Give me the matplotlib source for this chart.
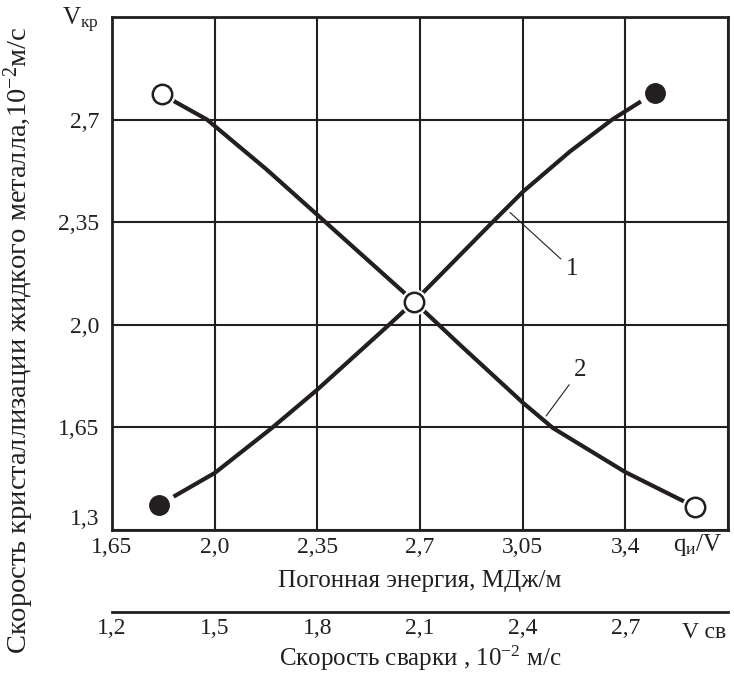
import matplotlib
matplotlib.use("Agg")
import matplotlib.pyplot as plt

plt.rcParams['font.family'] = ['Liberation Serif', 'DejaVu Serif']
plt.rcParams['mathtext.fontset'] = 'custom'
plt.rcParams['mathtext.rm'] = 'Liberation Serif'
plt.rcParams['mathtext.it'] = 'Liberation Serif'

ink = '#231f20'

# curve 1 - filled end points
q1 = [1.81, 2.001, 2.195, 2.349, 2.591, 2.68, 2.945, 3.051, 3.211, 3.355, 3.501]
v1 = [1.385, 1.495, 1.648, 1.778, 1.997, 2.079, 2.348, 2.454, 2.591, 2.70, 2.792]
# curve 2 - open end points
q2 = [1.82, 1.974, 2.178, 2.349, 2.68, 2.836, 3.051, 3.153, 3.399, 3.637]
v2 = [2.786, 2.70, 2.529, 2.376, 2.079, 1.932, 1.734, 1.648, 1.498, 1.379]

xticks = [1.65, 2.0, 2.35, 2.7, 3.05, 3.4]
xlabels = ['1,65', '2,0', '2,35', '2,7', '3,05', '3,4']
yticks = [1.3, 1.65, 2.0, 2.35, 2.7]
ylabels = ['1,3', '1,65', '2,0', '2,35', '2,7']
sticks = [1.2, 1.5, 1.8, 2.1, 2.4, 2.7]
slabels = ['1,2', '1,5', '1,8', '2,1', '2,4', '2,7']

fig = plt.figure(figsize=(7.34, 6.80), dpi=100)
ax = fig.add_axes([112/734, 150/680, 616/734, 513/680])
ax.set_xlim(1.65, 3.75)
ax.set_ylim(1.3, 3.05)
ax.set_xticks(xticks + [3.75])
ax.set_xticklabels(xlabels + [''])
ax.set_yticks(yticks + [3.05])
ylab = ax.set_yticklabels(ylabels + [''])
ylab[0].set_va('bottom')
ax.tick_params(length=0, labelsize=17, colors=ink)
ax.tick_params(axis='x', pad=5)
ax.tick_params(axis='y', pad=9)
ax.grid(True, color=ink, lw=1.5)
ax.set_axisbelow(True)
for s in ax.spines.values():
    s.set_linewidth(2)
    s.set_color(ink)

# curves
ax.plot(q1, v1, color=ink, lw=3, solid_capstyle='butt', solid_joinstyle='round', zorder=3)
ax.plot(q2, v2, color=ink, lw=3, solid_capstyle='butt', solid_joinstyle='round', zorder=3)

# white halos so the curves stop short of the markers
ax.plot([q1[0], q1[-1]], [v1[0], v1[-1]], 'o', ms=24, mfc='white', mec='none', zorder=4)
ax.plot([q2[0], q2[4], q2[-1]], [v2[0], v2[4], v2[-1]], 'o', ms=19, mfc='white', mec='none', zorder=4)
ax.plot([q1[0], q1[-1]], [v1[0], v1[-1]], 'o', ms=14, mfc=ink, mec=ink, zorder=5)
ax.plot([q2[0], q2[4], q2[-1]], [v2[0], v2[4], v2[-1]], 'o', ms=14, mfc='white', mec=ink, mew=1.8, zorder=5)

# curve numbers
ax.annotate('1', xy=(3.007, 2.383), xytext=(3.218, 2.19), fontsize=18, color=ink,
            ha='center', va='center',
            arrowprops=dict(arrowstyle='-', lw=0.8, color=ink, shrinkA=2, shrinkB=0))
ax.annotate('2', xy=(3.13, 1.689), xytext=(3.245, 1.845), fontsize=18, color=ink,
            ha='center', va='center',
            arrowprops=dict(arrowstyle='-', lw=0.8, color=ink, shrinkA=2, shrinkB=0))

ax.set_xlabel('Погонная энергия, МДж/м', fontsize=18, color=ink, labelpad=9)
ax.set_ylabel('Скорость кристаллизации жидкого металла,10$^{-2}$м/с', fontsize=20.5, color=ink)
ax.yaxis.set_label_coords(-0.123, 0.37)

ax.text(-0.052, 0.994, 'V$_{\\mathregular{кр}}$', transform=ax.transAxes, fontsize=18,
        color=ink, ha='center', va='center')
ax.text(0.951, -0.03, 'q$_{\\mathregular{и}}$/V', transform=ax.transAxes, fontsize=18,
        color=ink, ha='center', va='center')

# welding speed scale below
sec = ax.secondary_xaxis(-0.16, functions=(lambda q: 1.2 + (q - 1.65) * 0.3 / 0.35,
                                           lambda v: 1.65 + (v - 1.2) * 0.35 / 0.3))
sec.set_xticks(sticks)
sec.set_xticklabels(slabels)
sec.tick_params(length=0, labelsize=17, colors=ink, pad=4)
sec.spines['bottom'].set_linewidth(2)
sec.spines['bottom'].set_color(ink)
sec.set_xlabel('Скорость сварки , 10$^{-2}$ м/с', fontsize=18, color=ink, labelpad=4)
ax.text(0.961, -0.199, 'V св', transform=ax.transAxes, fontsize=17,
        color=ink, ha='center', va='center')

fig.savefig('out.png', dpi=100)
